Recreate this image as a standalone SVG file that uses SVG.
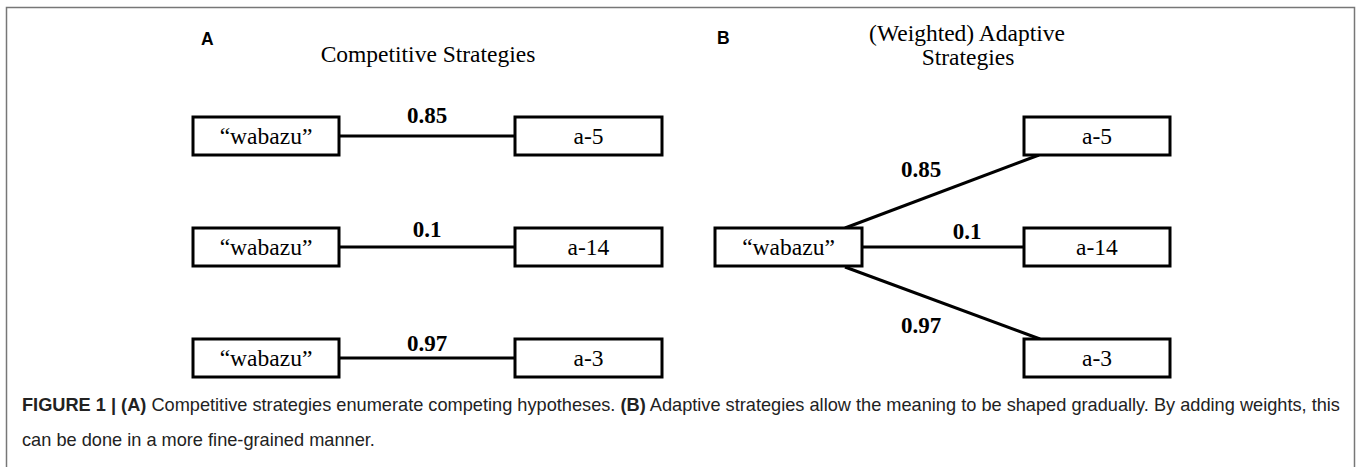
<svg xmlns="http://www.w3.org/2000/svg" width="1357" height="467" viewBox="0 0 1357 467">
<style>
.box{fill:#fff;stroke:#000;stroke-width:3}
.lbl{font-family:"Liberation Serif","Times New Roman",serif;font-size:23.5px;text-anchor:middle;fill:#000}
.w{font-family:"Liberation Serif","Times New Roman",serif;font-size:23px;font-weight:bold;text-anchor:middle;fill:#000}
.title{font-family:"Liberation Serif","Times New Roman",serif;font-size:23.5px;text-anchor:middle;fill:#000}
.panel{font-family:"Liberation Sans",Arial,sans-serif;font-size:17.5px;font-weight:bold;fill:#000}
.edge{stroke:#000;stroke-width:3;fill:none}
.cap{font-family:"Liberation Sans",Arial,sans-serif;font-size:18.2px;fill:#222}
</style>
<rect x="0" y="0" width="1357" height="467" fill="#fff"/>
<rect x="6.5" y="7.5" width="1348" height="475" fill="none" stroke="#777" stroke-width="1.5"/>
<text class="panel" x="201" y="45">A</text>
<text class="panel" x="717" y="44">B</text>
<text class="title" x="428" y="62">Competitive Strategies</text>
<text class="title" x="967" y="41">(Weighted) Adaptive</text>
<text class="title" x="968" y="65">Strategies</text>
<g id="connectors">
<line class="edge" x1="339" y1="136" x2="515" y2="136"/>
<line class="edge" x1="339" y1="247" x2="515" y2="247"/>
<line class="edge" x1="339" y1="358" x2="515" y2="358"/>
<line class="edge" x1="845" y1="228" x2="1039" y2="155"/>
<line class="edge" x1="862" y1="247" x2="1024" y2="247"/>
<line class="edge" x1="845" y1="267" x2="1040" y2="339"/>
<text class="w" x="427" y="123">0.85</text>
<text class="w" x="427" y="237">0.1</text>
<text class="w" x="427" y="351">0.97</text>
<text class="w" x="921" y="177">0.85</text>
<text class="w" x="967" y="239">0.1</text>
<text class="w" x="921" y="333">0.97</text>
</g>
<g id="a_w1"><rect class="box" x="193" y="117" width="146" height="38"/><text class="lbl" x="266" y="144">“wabazu”</text></g>
<g id="a_w2"><rect class="box" x="193" y="228" width="146" height="38"/><text class="lbl" x="266" y="255">“wabazu”</text></g>
<g id="a_w3"><rect class="box" x="193" y="339" width="146" height="38"/><text class="lbl" x="266" y="366">“wabazu”</text></g>
<g id="a_a5"><rect class="box" x="515" y="117" width="147" height="38"/><text class="lbl" x="588.5" y="144">a-5</text></g>
<g id="a_a14"><rect class="box" x="515" y="228" width="147" height="38"/><text class="lbl" x="588.5" y="255">a-14</text></g>
<g id="a_a3"><rect class="box" x="515" y="339" width="147" height="38"/><text class="lbl" x="588.5" y="366">a-3</text></g>
<g id="b_w"><rect class="box" x="715" y="228" width="147" height="38"/><text class="lbl" x="788.5" y="255">“wabazu”</text></g>
<g id="b_a5"><rect class="box" x="1024" y="117" width="146" height="38"/><text class="lbl" x="1097" y="144">a-5</text></g>
<g id="b_a14"><rect class="box" x="1024" y="228" width="146" height="38"/><text class="lbl" x="1097" y="255">a-14</text></g>
<g id="b_a3"><rect class="box" x="1024" y="339" width="146" height="38"/><text class="lbl" x="1097" y="366">a-3</text></g>
<text class="cap" x="22" y="411"><tspan font-weight="bold">FIGURE 1 | (A)</tspan> Competitive strategies enumerate competing hypotheses. <tspan font-weight="bold">(B)</tspan> Adaptive strategies allow the meaning to be shaped gradually. By adding weights, this</text>
<text class="cap" x="22" y="446">can be done in a more fine-grained manner.</text>
</svg>
